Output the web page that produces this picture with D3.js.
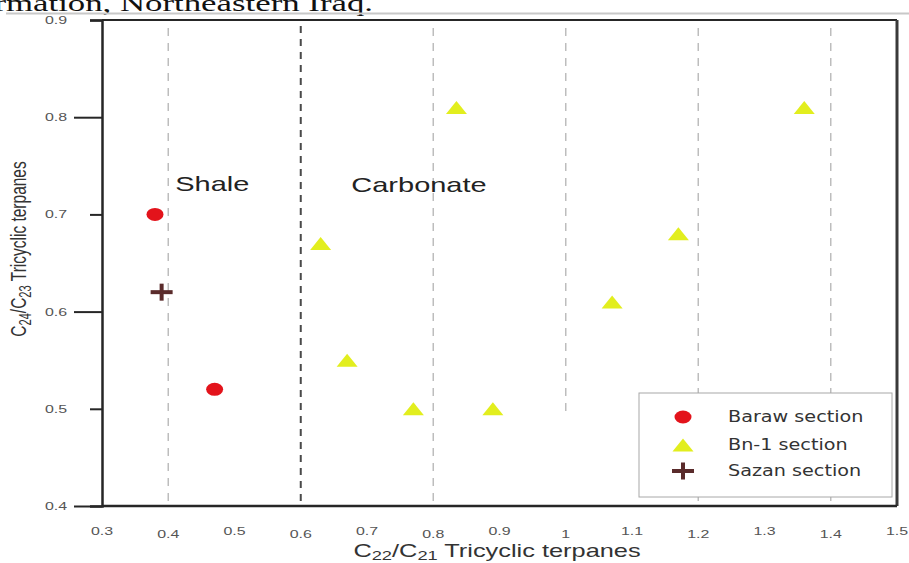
<!DOCTYPE html>
<html>
<head>
<meta charset="utf-8">
<script src="https://cdn.jsdelivr.net/npm/d3@7"></script>
<style>
  html, body { margin: 0; padding: 0; background: #fff; }
  svg { display: block; }
  text { font-family: "Liberation Sans", Arial, sans-serif; }
</style>
</head>
<body>
<svg id="chart" width="909" height="563"></svg>
<script>
// ---- data ----
const xTicks = [0.3, 0.4, 0.5, 0.6, 0.7, 0.8, 0.9, 1, 1.1, 1.2, 1.3, 1.4, 1.5];
const yTicks = [0.4, 0.5, 0.6, 0.7, 0.8, 0.9];
const yMajorTicks = [0.4, 0.6, 0.8];

const barawX = [0.38, 0.47];
const barawY = [0.70, 0.52];

const bn1X = [0.835, 1.36, 0.63, 0.67, 0.77, 0.89, 1.07, 1.17];
const bn1Y = [0.81, 0.81, 0.67, 0.55, 0.50, 0.50, 0.61, 0.68];

const sazanX = [0.39];
const sazanY = [0.62];

const lightGridX = [0.4, 0.8, 1.0, 1.2, 1.4];
const boundaryX = 0.6;          // shale / carbonate boundary
const shortGridX = 1.0;         // this guide stops short of the axis
const shortGridStop = 0.495;

const legendNames = ["Baraw section", "Bn-1 section", "Sazan section"];

// ---- layout ----
const W = 909, H = 563;
const margin = { left: 102, top: 20, right: 12, bottom: 57 };
const SX = 1.45; // horizontal stretch applied to all lettering

const svg = d3.select("#chart");
const x = d3.scaleLinear().domain([0.3, 1.5]).range([margin.left, W - margin.right]);
const y = d3.scaleLinear().domain([0.4, 0.9]).range([H - margin.bottom, margin.top]);

const RED = "#e3131b", YELLOW = "#e2ee1e", BROWN = "#5a2b2b";

// lettering helper: places text with the horizontal stretch
function label(g, txt, px, py, opts = {}) {
  const sx = opts.sx || SX;
  const t = g.append("text")
    .attr("transform", `translate(${px},${py}) scale(${sx},1)`)
    .attr("font-size", opts.size || 12)
    .attr("fill", opts.fill || "#333")
    .attr("text-anchor", opts.anchor || "start")
    .text(txt);
  if (opts.family) t.style("font-family", opts.family);
  return t;
}

// caption fragment at the top edge
label(svg, "Formation, Northeastern Iraq.", 373, 11,
  { size: 24, fill: "#111", anchor: "end", family: "'Liberation Serif', 'Times New Roman', serif" });
svg.append("line")
  .attr("x1", 6).attr("x2", W).attr("y1", 13.5).attr("y2", 13.5)
  .attr("stroke", "#c8c8c8").attr("stroke-width", 2);

// ---- guides ----
const grid = svg.append("g");
grid.selectAll("line.light")
  .data(lightGridX)
  .join("line")
  .attr("class", "light")
  .attr("x1", d => x(d)).attr("x2", d => x(d))
  .attr("y1", y(0.9) + 8)
  .attr("y2", d => d === shortGridX ? y(shortGridStop) : y(0.4))
  .attr("stroke", "#bdbdbd")
  .attr("stroke-width", 1.5)
  .attr("stroke-dasharray", "8,7");

grid.append("line")
  .attr("x1", x(boundaryX)).attr("x2", x(boundaryX))
  .attr("y1", y(0.9) + 6).attr("y2", y(0.4))
  .attr("stroke", "#4a4a4a")
  .attr("stroke-width", 2)
  .attr("stroke-dasharray", "7,6");

// ---- frame ----
const frame = svg.append("g").attr("stroke", "#262626").attr("fill", "none");
frame.append("line").attr("x1", x(0.3)).attr("x2", x(1.5)).attr("y1", y(0.9)).attr("y2", y(0.9)).attr("stroke-width", 2);
frame.append("line").attr("x1", x(1.5)).attr("x2", x(1.5)).attr("y1", y(0.9)).attr("y2", y(0.4)).attr("stroke-width", 3).attr("stroke", "#3a3a3a");
frame.append("line").attr("x1", x(0.3)).attr("x2", x(1.5)).attr("y1", y(0.4)).attr("y2", y(0.4)).attr("stroke-width", 2.5);

// y axis with long major ticks and short minor ticks
const yAxis = svg.append("g")
  .attr("transform", `translate(${x(0.3)},0)`)
  .call(d3.axisLeft(y).tickValues(yTicks).tickSize(12).tickFormat(""));
yAxis.select(".domain").attr("stroke", "#262626").attr("stroke-width", 2.5);
yAxis.selectAll(".tick line")
  .attr("stroke", "#262626").attr("stroke-width", 2)
  .attr("x2", d => yMajorTicks.includes(d) ? -28 : -12);

// y tick labels
const yl = svg.append("g");
yTicks.forEach(v => {
  label(yl, d3.format(".1f")(v), 56, y(v) + 4, { size: 11, fill: "#555", anchor: "middle" });
});

// x tick labels (alternating heights)
const xl = svg.append("g");
xTicks.forEach((v, i) => {
  label(xl, String(v), x(v), 535 + (i % 2 ? 3 : 0), { size: 11, fill: "#555", anchor: "middle" });
});

// axis titles with subscripts
function subTitle(g, parts, transform, size) {
  const t = g.append("text")
    .attr("transform", transform)
    .attr("font-size", size)
    .attr("fill", "#333")
    .attr("text-anchor", "middle");
  parts.forEach(([s, sub]) => {
    t.append("tspan")
      .attr("font-size", sub ? size * 0.72 : size)
      .attr("baseline-shift", sub ? "-25%" : "0%")
      .text(s);
  });
  return t;
}
subTitle(svg, [["C"], ["22", true], ["/C"], ["21", true], [" Tricyclic terpanes"]],
  `translate(497,557) scale(${SX},1)`, 17.5);
subTitle(svg, [["C"], ["24", true], ["/C"], ["23", true], [" Tricyclic terpanes"]],
  `translate(26,249) rotate(-90) scale(1,${SX})`, 15.5);

// region labels
label(svg, "Shale", x(0.4) + 44, 191, { size: 20, fill: "#222", anchor: "middle" });
label(svg, "Carbonate", 419, 192, { size: 20, fill: "#222", anchor: "middle" });

// ---- markers ----
const triPath = "M0,-6.5 L10.5,6.5 L-10.5,6.5 Z";
function dot(g, cx, cy) {
  g.append("ellipse").attr("cx", cx).attr("cy", cy).attr("rx", 8.5).attr("ry", 6.5).attr("fill", RED);
}
function tri(g, cx, cy) {
  g.append("path").attr("d", triPath).attr("transform", `translate(${cx},${cy})`).attr("fill", YELLOW);
}
function plus(g, cx, cy) {
  g.append("rect").attr("x", cx - 11).attr("y", cy - 2).attr("width", 22).attr("height", 4).attr("fill", BROWN);
  g.append("rect").attr("x", cx - 2).attr("y", cy - 8.5).attr("width", 4).attr("height", 17).attr("fill", BROWN);
}

const marks = svg.append("g");
bn1X.forEach((v, i) => tri(marks, x(v), y(bn1Y[i])));
barawX.forEach((v, i) => dot(marks, x(v), y(barawY[i])));
sazanX.forEach((v, i) => plus(marks, x(v), y(sazanY[i])));

// ---- legend ----
const lg = svg.append("g").attr("transform", "translate(639,393)");
lg.append("rect").attr("width", 253).attr("height", 104)
  .attr("fill", "#fff").attr("stroke", "#a8a8a8").attr("stroke-width", 1);
const rowY = [24, 52, 78];
const drawers = [dot, tri, plus];
legendNames.forEach((name, i) => {
  drawers[i](lg, 44, rowY[i]);
  label(lg, name, 89, rowY[i] + 5,
    { size: 15, fill: "#333", sx: 1.28, family: "'DejaVu Sans', Verdana, sans-serif" });
});
</script>
</body>
</html>
